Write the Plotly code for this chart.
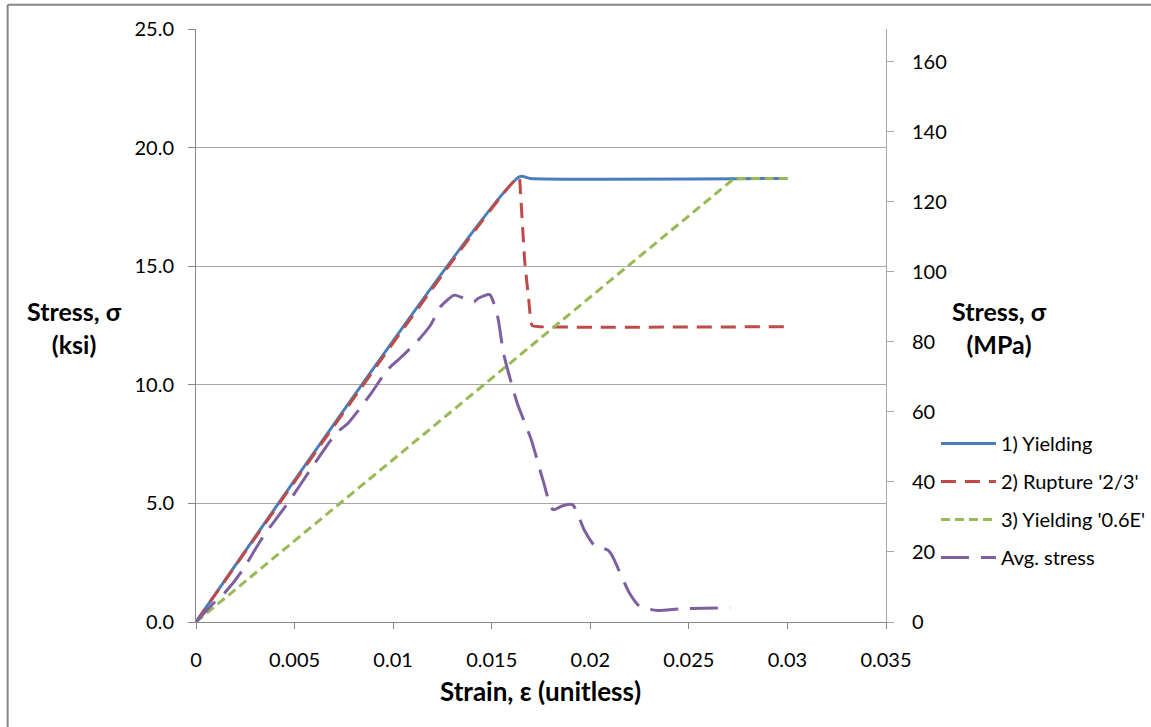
import plotly.graph_objects as go

# ---- data (strain, stress in ksi) ----
yield_strain = [0, 0.01642, 0.01696, 0.030]
yield_stress = [0, 18.78, 18.7, 18.7]

rupture_strain = [0, 0.01637, 0.01646, 0.01667, 0.01688, 0.01705, 0.01740, 0.030]
rupture_stress = [0, 18.75, 18.08, 15.26, 13.57, 12.5, 12.45, 12.45]

yield06_strain = [0, 0.0273, 0.030]
yield06_stress = [0, 18.7, 18.7]

avg_strain = [0, 0.0009, 0.0015, 0.0023, 0.0034, 0.0047, 0.0059, 0.0071, 0.0077, 0.0085,
              0.0090, 0.0097, 0.0104, 0.0112, 0.0119, 0.0124, 0.0131, 0.0136, 0.0141, 0.0143,
              0.0149, 0.0153, 0.0156, 0.0160, 0.0163, 0.0170, 0.0176, 0.0181, 0.0186, 0.0191,
              0.0197, 0.0202, 0.0209, 0.0211, 0.0220, 0.0225, 0.0234, 0.0246, 0.0271]
avg_stress = [0, 0.8, 1.27, 2.11, 3.59, 5.06, 6.54, 7.95, 8.37, 9.21,
              9.78, 10.62, 11.16, 11.81, 12.52, 13.29, 13.78, 13.64, 13.5, 13.64,
              13.8, 12.87, 11.32, 10.06, 9.21, 7.7, 5.98, 4.74, 4.9, 4.95,
              3.87, 3.24, 3.03, 2.81, 1.2, 0.66, 0.49, 0.56, 0.6]

left_ticks = [0, 5, 10, 15, 20, 25]
left_ticktext = ["0.0", "5.0", "10.0", "15.0", "20.0", "25.0"]
x_ticks = [0, 0.005, 0.01, 0.015, 0.02, 0.025, 0.03, 0.035]
x_ticktext = ["0", "0.005", "0.01", "0.015", "0.02", "0.025", "0.03", "0.035"]
mpa_ticks = [0, 20, 40, 60, 80, 100, 120, 140, 160]

FONT = "Lato"
W, H = 1151, 727
L, R, T, B = 195.5, 265, 29.3, 105.3
pw, ph = W - L - R, H - T - B

def px_x(p):
    return (p - L) / pw

def px_y(p):
    return (H - B - p) / ph

fig = go.Figure()
fig.add_trace(go.Scatter(x=yield_strain, y=yield_stress, mode="lines", name="1) Yielding",
                         line=dict(color="#4A7EBB", width=3, shape="spline", smoothing=0.6),
                         legendgroup="a"))
fig.add_trace(go.Scatter(x=rupture_strain, y=rupture_stress, mode="lines", name="2) Rupture '2/3'",
                         line=dict(color="#BE4B48", width=3, dash="15px,9px", shape="spline", smoothing=0.5),
                         legendgroup="b"))
fig.add_trace(go.Scatter(x=yield06_strain, y=yield06_stress, mode="lines", name="3) Yielding '0.6E'",
                         line=dict(color="#98B954", width=3, dash="9px,5px"),
                         legendgroup="c"))
fig.add_trace(go.Scatter(x=avg_strain, y=avg_stress, mode="lines", name="Avg. stress",
                         line=dict(color="#7D60A0", width=3, dash="28px,12px", shape="spline", smoothing=0.6),
                         legendgroup="d"))
# empty trace so the secondary (MPa) axis is drawn
fig.add_trace(go.Scatter(x=[], y=[], yaxis="y2", showlegend=False, hoverinfo="skip"))

fig.update_layout(
    width=W, height=H,
    margin=dict(l=L, r=R, t=T, b=B, autoexpand=False),
    paper_bgcolor="white", plot_bgcolor="white",
    font=dict(family=FONT, size=20, color="black"),
    showlegend=True,
    legend=dict(x=px_x(936), y=px_y(424), xanchor="left", yanchor="top",
                font=dict(family=FONT, size=20, color="black"),
                tracegroupgap=9, bgcolor="rgba(0,0,0,0)", itemwidth=55),
    xaxis=dict(range=[0, 0.035], tickvals=x_ticks, ticktext=x_ticktext,
               showgrid=False, zeroline=False, showline=True, linecolor="#868686", linewidth=1,
               ticks="outside", ticklen=6, tickcolor="#868686", ticklabelstandoff=14,
               tickfont=dict(family=FONT, size=20)),
    yaxis=dict(range=[0, 25], tickvals=left_ticks, ticktext=left_ticktext,
               showgrid=True, gridcolor="#A6A6A6", gridwidth=1, zeroline=False,
               showline=True, linecolor="#868686", linewidth=1,
               ticks="outside", ticklen=7, tickcolor="#868686", ticklabelstandoff=10,
               tickfont=dict(family=FONT, size=20)),
    yaxis2=dict(range=[0, 169.3], tickvals=mpa_ticks, overlaying="y", side="right", anchor="x",
                showgrid=False, zeroline=False, showline=True, linecolor="#A6A6A6", linewidth=1,
                ticks="outside", ticklen=7, tickcolor="#A6A6A6", ticklabelstandoff=14,
                tickfont=dict(family=FONT, size=20)),
)

# axis titles (horizontal text as in the reference)
fig.add_annotation(x=px_x(540), y=px_y(691), xref="paper", yref="paper",
                   text="<b>Strain, ε (unitless)</b>", showarrow=False,
                   font=dict(family=FONT, size=26), xanchor="center", yanchor="middle")
fig.add_annotation(x=px_x(74), y=px_y(327), xref="paper", yref="paper",
                   text="<b>Stress, σ<br>(ksi)</b>", showarrow=False, align="center",
                   font=dict(family=FONT, size=25), xanchor="center", yanchor="middle")
fig.add_annotation(x=px_x(1000), y=px_y(327), xref="paper", yref="paper",
                   text="<b>Stress, σ<br>(MPa)</b>", showarrow=False, align="center",
                   font=dict(family=FONT, size=25), xanchor="center", yanchor="middle")

# chart-area border (left and top edges visible)
fig.add_shape(type="line", xref="paper", yref="paper", x0=px_x(7), x1=px_x(1160),
              y0=px_y(5), y1=px_y(5), line=dict(color="#868686", width=2))
fig.add_shape(type="line", xref="paper", yref="paper", x0=px_x(7), x1=px_x(7),
              y0=px_y(5), y1=px_y(740), line=dict(color="#868686", width=2))

fig.write_html("out.html")
